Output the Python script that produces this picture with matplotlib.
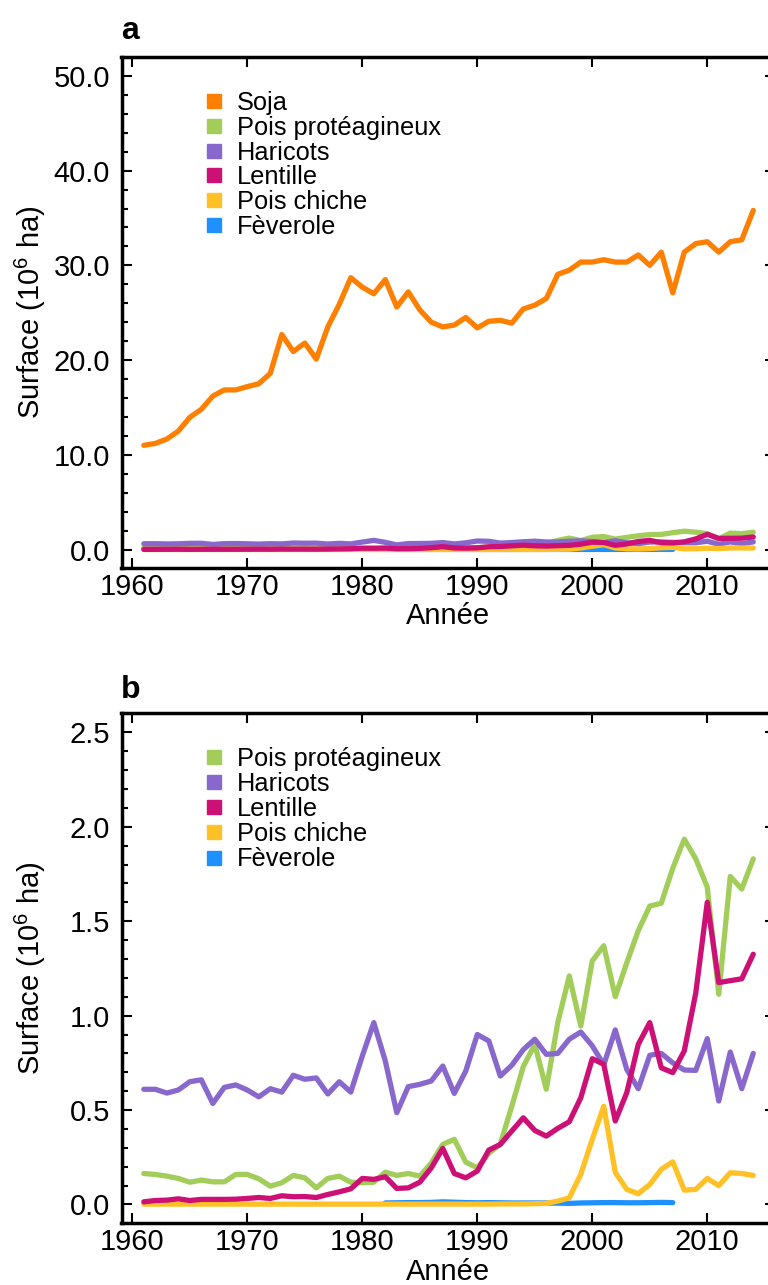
import matplotlib
matplotlib.use('Agg')
import matplotlib.pyplot as plt
from matplotlib.ticker import MultipleLocator, FormatStrFormatter
import numpy as np

plt.rcParams['font.family'] = ['Liberation Sans', 'DejaVu Sans']
plt.rcParams['mathtext.fontset'] = 'custom'
plt.rcParams['mathtext.rm'] = 'Liberation Sans'
plt.rcParams['mathtext.it'] = 'Liberation Sans:italic'
plt.rcParams['mathtext.bf'] = 'Liberation Sans:bold'

# ---------------- data ----------------
years = list(range(1961, 2015))

soja = [11.0, 11.2, 11.66, 12.5, 13.95, 14.8, 16.2, 16.85, 16.85, 17.2,
        17.5, 18.6, 22.7, 20.9, 21.8, 20.1, 23.5, 25.9, 28.7, 27.7,
        27.0, 28.5, 25.6, 27.2, 25.3, 24.0, 23.5, 23.7, 24.5, 23.4,
        24.1, 24.2, 23.9, 25.4, 25.8, 26.5, 29.05, 29.5, 30.35, 30.35,
        30.6, 30.35, 30.35, 31.1, 30.0, 31.4, 27.1, 31.4, 32.3, 32.5,
        31.4, 32.5, 32.7, 35.8]

pois_proteagineux = [0.164, 0.159, 0.15, 0.138, 0.118, 0.129, 0.12, 0.12, 0.159, 0.159,
                     0.136, 0.097, 0.115, 0.154, 0.141, 0.088, 0.138, 0.15, 0.118, 0.115,
                     0.118, 0.171, 0.154, 0.164, 0.15, 0.22, 0.318, 0.345, 0.224, 0.194,
                     0.27, 0.32, 0.52, 0.73, 0.848, 0.61, 0.963, 1.21, 0.945, 1.29,
                     1.37, 1.10, 1.28, 1.45, 1.58, 1.595, 1.78, 1.934, 1.83, 1.68,
                     1.113, 1.737, 1.67, 1.83]

haricots = [0.61, 0.61, 0.59, 0.606, 0.65, 0.66, 0.535, 0.62, 0.633, 0.606,
            0.57, 0.613, 0.595, 0.684, 0.663, 0.67, 0.585, 0.65, 0.595, 0.786,
            0.963, 0.76, 0.486, 0.624, 0.636, 0.654, 0.733, 0.588, 0.707, 0.90,
            0.866, 0.68, 0.737, 0.82, 0.875, 0.795, 0.80, 0.875, 0.913, 0.84,
            0.74, 0.924, 0.715, 0.613, 0.79, 0.80, 0.75, 0.712, 0.71, 0.878,
            0.548, 0.807, 0.613, 0.80]

lentille = [0.014, 0.021, 0.023, 0.03, 0.021, 0.027, 0.027, 0.027, 0.028, 0.032,
            0.037, 0.032, 0.046, 0.041, 0.042, 0.037, 0.053, 0.067, 0.083, 0.138,
            0.133, 0.147, 0.085, 0.088, 0.118, 0.194, 0.297, 0.164, 0.141, 0.177,
            0.288, 0.318, 0.389, 0.459, 0.392, 0.362, 0.403, 0.438, 0.565, 0.772,
            0.742, 0.442, 0.592, 0.848, 0.963, 0.724, 0.698, 0.813, 1.12, 1.60,
            1.175, 1.185, 1.195, 1.325]

pois_chiche = [0.002, 0.002, 0.002, 0.002, 0.002, 0.002, 0.002, 0.002, 0.002, 0.002,
               0.002, 0.002, 0.002, 0.002, 0.002, 0.002, 0.002, 0.002, 0.002, 0.002,
               0.002, 0.002, 0.002, 0.002, 0.002, 0.002, 0.002, 0.002, 0.002, 0.002,
               0.002, 0.003, 0.003, 0.003, 0.004, 0.006, 0.018, 0.035, 0.16, 0.345,
               0.52, 0.17, 0.08, 0.057, 0.106, 0.186, 0.226, 0.076, 0.08, 0.138,
               0.10, 0.168, 0.164, 0.154]

feverole = [np.nan] * 21 + [0.008, 0.009, 0.010, 0.010, 0.011, 0.014, 0.012, 0.010, 0.009,
                            0.010, 0.009, 0.008, 0.008, 0.008, 0.008, 0.007, 0.006, 0.008,
                            0.009, 0.010, 0.010, 0.009, 0.009, 0.010, 0.011, 0.010] + [np.nan] * 7

names = ['Soja', 'Pois protéagineux', 'Haricots', 'Lentille', 'Pois chiche', 'Fèverole']
colors = ['#FF7F00', '#A2CD5A', '#8968CD', '#CD1076', '#FFC125', '#1E90FF']
series = [soja, pois_proteagineux, haricots, lentille, pois_chiche, feverole]
draw_order = [0, 1, 2, 5, 4, 3]

# ---------------- layout ----------------
W, H = 768, 1285
fig = plt.figure(figsize=(W / 100, H / 100), dpi=100)


def rect(left, top, right, bottom):
    return [left / W, 1 - bottom / H, (right - left) / W, (bottom - top) / H]


axA = fig.add_axes(rect(121.5, 57.3, 775, 567.7))
axB = fig.add_axes(rect(121.5, 713.3, 775, 1223.3))

panels = [
    (axA, [0, 1, 2, 3, 4, 5], (-1.92, 51.97), 10, 2, 'a', 39.3, 101.0, 24.8),
    (axB, [1, 2, 3, 4, 5], (-0.0996, 2.6006), 0.5, 0.1, 'b', 698.0, 756.7, 25.2),
]

for ax, idxs, ylim, major, minor, lab, lab_y, leg_y0, leg_dy in panels:
    for i in draw_order:
        if i in idxs:
            ax.plot(years, series[i], color=colors[i], lw=3.8,
                    solid_capstyle='round', solid_joinstyle='round')
    ax.set_xlim(1959.06, 2015.89)
    ax.set_ylim(*ylim)
    ax.xaxis.set_major_locator(MultipleLocator(10))
    ax.yaxis.set_major_locator(MultipleLocator(major))
    ax.yaxis.set_minor_locator(MultipleLocator(minor))
    ax.yaxis.set_major_formatter(FormatStrFormatter('%.1f'))
    for s in ax.spines.values():
        s.set_linewidth(2.5)
    ax.tick_params(which='major', direction='in', top=True, right=True,
                   length=7.5, width=1.5, labelsize=21)
    ax.tick_params(which='minor', direction='in', left=True, right=False,
                   top=False, bottom=False, length=4.5, width=1.5)
    ax.tick_params(axis='x', which='major', pad=3.5)
    ax.tick_params(axis='y', which='major', pad=8.3)

    ax.set_xlabel('Année', fontsize=21)
    ax.xaxis.set_label_coords(0.5, -0.1105)
    ax.xaxis.label.set_verticalalignment('baseline')
    ax.set_ylabel('Surface (10$^{6}$ ha)', fontsize=21)
    ax.yaxis.set_label_coords(-0.112, 0.5)

    fig.text(120.7 / W, 1 - lab_y / H, lab, fontsize=23, fontweight='bold',
             ha='left', va='baseline')

    # legend (manual, square keys)
    for k, i in enumerate(idxs):
        cy = leg_y0 + k * leg_dy
        ax.plot([214 / W], [1 - cy / H], marker='s', markersize=10.2, ls='none',
                color=colors[i], transform=fig.transFigure, clip_on=False)
        fig.text(237 / W, 1 - (cy + 9.0) / H, names[i], fontsize=18.3,
                 ha='left', va='baseline')

fig.savefig('out.png', dpi=100)
